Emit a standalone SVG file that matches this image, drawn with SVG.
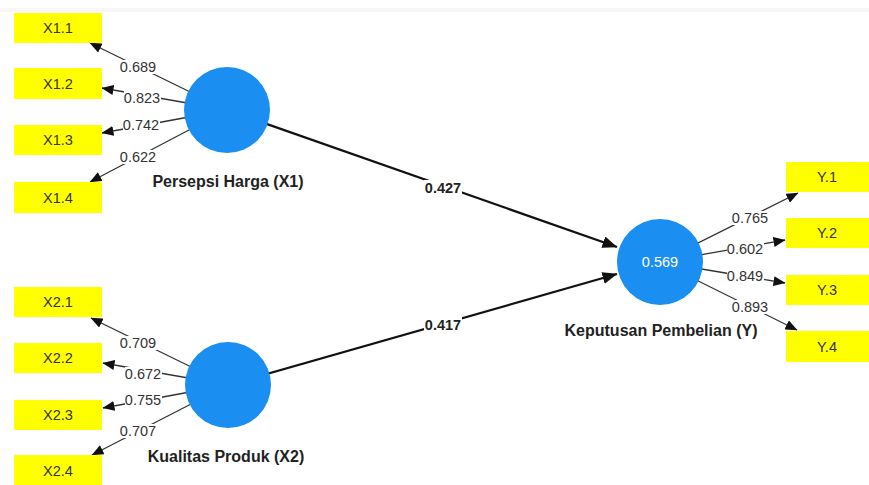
<svg xmlns="http://www.w3.org/2000/svg" width="869" height="485" viewBox="0 0 869 485">
<defs>
<style>
.box{fill:#ffff00}
.bt{font-family:"Liberation Sans",Arial,sans-serif;font-size:14.5px;fill:#333;text-anchor:middle}
.lv{fill:#1b8ef2}
.ln{font-family:"Liberation Sans",Arial,sans-serif;font-size:16px;font-weight:bold;fill:#222;text-anchor:middle}
.ld{stroke:#333;stroke-width:1.3;fill:none;marker-end:url(#ah)}
.pt{stroke:#111;stroke-width:2.2;fill:none;marker-end:url(#ahb)}
.lt{font-family:"Liberation Sans",Arial,sans-serif;font-size:14.5px;fill:#333;text-anchor:middle}
.pl{font-family:"Liberation Sans",Arial,sans-serif;font-size:14.5px;font-weight:bold;fill:#222;text-anchor:middle}
.bg{fill:#fff}
</style>
<marker id="ah" markerUnits="userSpaceOnUse" markerWidth="12" markerHeight="10" refX="11.5" refY="5" orient="auto"><path d="M0,0 L12,5 L0,10 z" fill="#111"/></marker>
<marker id="ahb" markerUnits="userSpaceOnUse" markerWidth="15" markerHeight="12" refX="14.5" refY="6" orient="auto"><path d="M0,0 L15,6 L0,12 z" fill="#111"/></marker>
</defs>
<rect width="869" height="485" fill="#fff"/>
<rect x="0" y="8" width="869" height="4" fill="#f7f7f7"/>
<g id="connectors">
<path class="pt" d="M227,110 L617,247"/>
<path class="pt" d="M228,385 L617,274"/>
<rect class="bg" x="424" y="180" width="38" height="15"/>
<text class="pl" x="443" y="193">0.427</text>
<rect class="bg" x="424" y="317" width="38" height="15"/>
<text class="pl" x="443" y="330">0.417</text>
<path class="ld" d="M227,110 L90,43"/>
<path class="ld" d="M227,110 L102,88"/>
<path class="ld" d="M227,110 L102,133"/>
<path class="ld" d="M227,110 L90,182"/>
<path class="ld" d="M228,385 L91,318"/>
<path class="ld" d="M228,385 L103,363"/>
<path class="ld" d="M228,385 L103,408"/>
<path class="ld" d="M228,385 L92,455"/>
<path class="ld" d="M660,262 L798,193"/>
<path class="ld" d="M660,262 L785,240"/>
<path class="ld" d="M660,262 L785,283"/>
<path class="ld" d="M660,262 L797,330"/>
<g>
<rect class="bg" x="120" y="60" width="37" height="14"/><text class="lt" x="138" y="72">0.689</text>
<rect class="bg" x="124" y="91" width="37" height="14"/><text class="lt" x="142" y="103">0.823</text>
<rect class="bg" x="123" y="118" width="37" height="14"/><text class="lt" x="141" y="130">0.742</text>
<rect class="bg" x="120" y="150" width="37" height="14"/><text class="lt" x="138" y="162">0.622</text>
<rect class="bg" x="120" y="336" width="37" height="14"/><text class="lt" x="138" y="348">0.709</text>
<rect class="bg" x="125" y="367" width="37" height="14"/><text class="lt" x="143" y="379">0.672</text>
<rect class="bg" x="125" y="393" width="37" height="14"/><text class="lt" x="143" y="405">0.755</text>
<rect class="bg" x="120" y="424" width="37" height="14"/><text class="lt" x="138" y="436">0.707</text>
<rect class="bg" x="732" y="211" width="37" height="14"/><text class="lt" x="750" y="223">0.765</text>
<rect class="bg" x="727" y="242" width="37" height="14"/><text class="lt" x="745" y="254">0.602</text>
<rect class="bg" x="727" y="269" width="37" height="14"/><text class="lt" x="745" y="281">0.849</text>
<rect class="bg" x="732" y="300" width="37" height="14"/><text class="lt" x="750" y="312">0.893</text>
</g>
</g>
<g id="X1"><circle class="lv" cx="227" cy="110" r="43"/><text class="ln" x="228" y="187">Persepsi Harga (X1)</text></g>
<g id="X2"><circle class="lv" cx="228" cy="385" r="43"/><text class="ln" x="226" y="462">Kualitas Produk (X2)</text></g>
<g id="Y"><circle class="lv" cx="660" cy="262" r="43"/><text x="660" y="267" style="font-family:'Liberation Sans',Arial,sans-serif;font-size:14.5px;fill:#fff;text-anchor:middle">0.569</text><text class="ln" x="661" y="336">Keputusan Pembelian (Y)</text></g>
<g id="X1.1"><rect class="box" x="14" y="13" width="88" height="30"/><text class="bt" x="58" y="33">X1.1</text></g>
<g id="X1.2"><rect class="box" x="14" y="68" width="88" height="31"/><text class="bt" x="58" y="89">X1.2</text></g>
<g id="X1.3"><rect class="box" x="14" y="125" width="88" height="30"/><text class="bt" x="58" y="145">X1.3</text></g>
<g id="X1.4"><rect class="box" x="14" y="182" width="88" height="31"/><text class="bt" x="58" y="203">X1.4</text></g>
<g id="X2.1"><rect class="box" x="14" y="287" width="88" height="30"/><text class="bt" x="58" y="307">X2.1</text></g>
<g id="X2.2"><rect class="box" x="14" y="343" width="88" height="30"/><text class="bt" x="58" y="363">X2.2</text></g>
<g id="X2.3"><rect class="box" x="14" y="400" width="88" height="30"/><text class="bt" x="58" y="420">X2.3</text></g>
<g id="X2.4"><rect class="box" x="14" y="455" width="88" height="30"/><text class="bt" x="58" y="476">X2.4</text></g>
<g id="Y.1"><rect class="box" x="786" y="162" width="83" height="30"/><text class="bt" x="827" y="182">Y.1</text></g>
<g id="Y.2"><rect class="box" x="786" y="218" width="83" height="30"/><text class="bt" x="827" y="238">Y.2</text></g>
<g id="Y.3"><rect class="box" x="786" y="275" width="83" height="30"/><text class="bt" x="827" y="295">Y.3</text></g>
<g id="Y.4"><rect class="box" x="786" y="331" width="83" height="31"/><text class="bt" x="827" y="352">Y.4</text></g>
</svg>
